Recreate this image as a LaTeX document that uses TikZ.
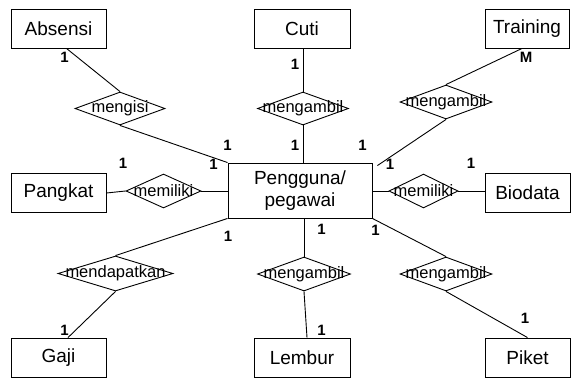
\documentclass[tikz,border=0pt]{standalone}
\usepackage{fontspec}
\setmainfont{Liberation Sans}
\usetikzlibrary{shapes.geometric,calc}
\begin{document}
\begin{tikzpicture}[x=1pt,y=-1pt,line width=0.9pt,
  entity/.style={draw,rectangle,inner sep=0pt,font=\fontsize{19}{21.5}\selectfont,align=center},
  rel/.style={draw,diamond,inner sep=0pt,minimum width=#1},
  reltext/.style={font=\fontsize{16.5}{18}\selectfont,inner sep=0pt},
  card/.style={font=\bfseries\fontsize{15}{16}\selectfont,inner sep=0pt}]
\useasboundingbox (0,0) rectangle (574,381);

% entities
\node[entity,minimum width=95,minimum height=39] (absensi) at (58.5,28.5) {Absensi};
\node[entity,minimum width=96,minimum height=39] (cuti) at (302,28.5) {Cuti};
\node[entity,minimum width=84,minimum height=39] (training) at (527,28.5) {Training};
\node[entity,minimum width=95,minimum height=39] (pangkat) at (58.5,193) {Pangkat};
\node[entity,minimum width=144,minimum height=55] (peg) at (300,190.5) {Pengguna/\\pegawai};
\node[entity,minimum width=85,minimum height=39] (biodata) at (527.5,193) {Biodata};
\node[entity,minimum width=95,minimum height=39] (gaji) at (58.5,357.5) {Gaji};
\node[entity,minimum width=96,minimum height=39] (lembur) at (302,357.5) {Lembur};
\node[entity,minimum width=85,minimum height=39] (piket) at (527.5,357.5) {Piket};

% relationships (diamonds, with their labels on top)
\node[rel=90,minimum height=33] (rAbs) at (120,108.5) {};
\node[reltext] at (rAbs) {mengisi};
\node[rel=91,minimum height=33] (rCuti) at (303,108.5) {};
\node[reltext] at (rCuti) {mengambil};
\node[rel=92,minimum height=34] (rTrain) at (446,102) {};
\node[reltext] at (rTrain) {mengambil};
\node[rel=75,minimum height=34] (rPangkat) at (163.5,191) {};
\node[reltext] at (rPangkat) {memiliki};
\node[rel=69,minimum height=34] (rBio) at (423.5,191) {};
\node[reltext] at (rBio) {memiliki};
\node[rel=115,minimum height=35] (rGaji) at (115.5,273.5) {};
\node[reltext] at (rGaji) {mendapatkan};
\node[rel=93,minimum height=34] (rLembur) at (304,274) {};
\node[reltext] at (rLembur) {mengambil};
\node[rel=92,minimum height=34] (rPiket) at (446,274) {};
\node[reltext] at (rPiket) {mengambil};

% connectors
\coordinate (trainEnd) at ($(peg.north east)+(5,3)$);
\draw ($(absensi.south)+(8,0)$) -- (rAbs.north);
\draw (rAbs.south) -- (peg.north west);
\draw (cuti.south -| rCuti.north) -- (rCuti.north);
\draw (rCuti.south) -- (rCuti.south |- peg.north);
\draw ($(training.south)+(-5,0)$) -- (rTrain.north);
\draw (rTrain.south) -- (trainEnd);
\draw (pangkat.east) -- (rPangkat.west);
\draw (rPangkat.east) -- (peg.west |- rPangkat.east);
\draw (peg.east |- rBio.west) -- (rBio.west);
\draw (rBio.east) -- (biodata.west |- rBio.east);
\draw (peg.south west) -- (rGaji.north);
\draw (rGaji.south) -- ($(gaji.north)+(9.5,0)$);
\draw (rLembur.north |- peg.south) -- (rLembur.north);
\draw (rLembur.south) -- ($(lembur.north)+(5,0)$);
\draw (peg.south east) -- (rPiket.north);
\draw (rPiket.south) -- (piket.north);

% cardinalities
\node[card] at (64.5,57) {1};
\node[card] at (295,64) {1};
\node[card] at (526,57) {M};
\node[card] at (123,163) {1};
\node[card] at (213.5,164) {1};
\node[card] at (227.5,145) {1};
\node[card] at (295,145) {1};
\node[card] at (362.5,145) {1};
\node[card] at (390,164) {1};
\node[card] at (471,163) {1};
\node[card] at (228,236) {1};
\node[card] at (321.5,229) {1};
\node[card] at (375.5,230) {1};
\node[card] at (64.5,330) {1};
\node[card] at (321.5,330) {1};
\node[card] at (525,318) {1};
\end{tikzpicture}
\end{document}
